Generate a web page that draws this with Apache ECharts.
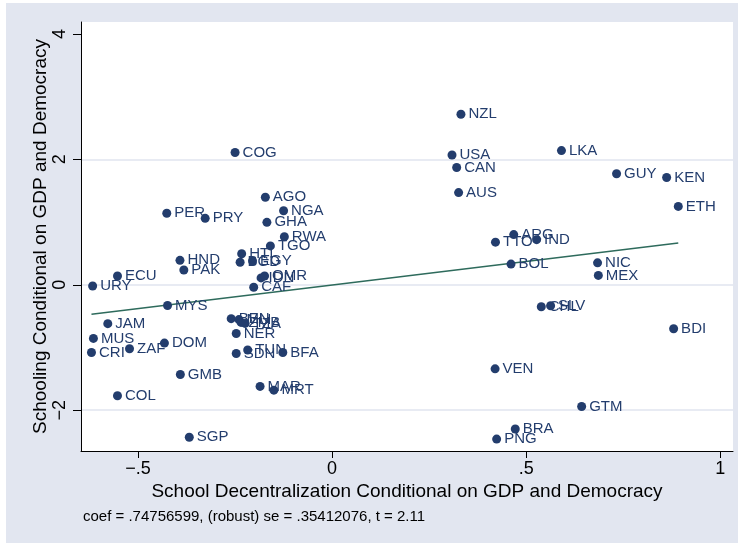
<!DOCTYPE html>
<html>
<head>
<meta charset="utf-8">
<script src="https://cdn.jsdelivr.net/npm/echarts@6/dist/echarts.min.js"></script>
<style>
  html, body { margin: 0; padding: 0; background: #fff; }
  #main { width: 740px; height: 545px; }
</style>
</head>
<body>
<div id="main"></div>
<script>
// country codes and the two residuals
var countries = ['NZL','USA','CAN','AUS','LKA','GUY','KEN','ETH','ARG','TTO','IND','BOL','NIC','MEX','CHL','SLV','BDI','VEN','GTM','BRA','PNG',
                 'COG','AGO','NGA','GHA','PRY','PER','RWA','TGO','HTI','BGD','EGY','IDN','OMR','CAF','HND','PAK','ECU','URY','MYS',
                 'JAM','MUS','CRI','ZAF','DOM','GMB','COL','SGP','BEN','MLI','ZMB','TZA','NER','SDN','TUN','BFA','MAR','MRT'];
var xVals = [0.332,0.309,0.321,0.326,0.591,0.733,0.862,0.892,0.468,0.421,0.527,0.461,0.684,0.686,0.539,0.563,0.880,0.420,0.643,0.472,0.424,
             -0.250,-0.172,-0.125,-0.168,-0.327,-0.426,-0.123,-0.159,-0.233,-0.237,-0.205,-0.183,-0.174,-0.202,-0.392,-0.382,-0.553,-0.617,-0.424,
             -0.578,-0.615,-0.620,-0.522,-0.432,-0.391,-0.553,-0.368,-0.260,-0.240,-0.2345,-0.224,-0.247,-0.247,-0.2175,-0.127,-0.1856,-0.150];
var yVals = [2.72,2.07,1.87,1.47,2.14,1.77,1.71,1.25,0.80,0.68,0.72,0.33,0.35,0.15,-0.35,-0.335,-0.70,-1.34,-1.94,-2.30,-2.46,
             2.11,1.395,1.18,0.996,1.06,1.14,0.766,0.62,0.495,0.36,0.38,0.11,0.14,-0.04,0.39,0.235,0.14,-0.02,-0.33,
             -0.62,-0.855,-1.08,-1.02,-0.93,-1.43,-1.77,-2.43,-0.54,-0.555,-0.60,-0.616,-0.776,-1.095,-1.04,-1.08,-1.62,-1.68];
// fitted line end points
var fitX = [-0.62, 0.892];
var fitY = [-0.47, 0.665];
// tick values and labels
var xTicks = [-0.5, 0, 0.5, 1];
var xTickText = ['\u2212.5', '0', '.5', '1'];
var yTicks = [-2, 0, 2, 4];
var yTickText = ['\u22122', '0', '2', '4'];
var gridVals = [-2, 0, 2];

var navy = '#233d6d';
var font = 'Liberation Sans, Arial, sans-serif';

var pts = [];
for (var i = 0; i < countries.length; i++) {
    pts.push({ name: countries[i], value: [xVals[i], yVals[i]] });
}
var fitData = [];
for (var i = 0; i < fitX.length; i++) {
    fitData.push([fitX[i], fitY[i]]);
}
var gridLines = [];
for (var i = 0; i < gridVals.length; i++) {
    gridLines.push({ yAxis: gridVals[i] });
}

var myChart = echarts.init(document.getElementById('main'));
var option = {
    backgroundColor: '#fff',
    animation: false,
    graphic: [
        { type: 'rect', z: -10, shape: { x: 6, y: 3, width: 732, height: 540 }, style: { fill: '#e2e6f0' } },
        { type: 'text', left: 83, top: 509, style: { text: 'coef = .74756599, (robust) se = .35412076, t = 2.11', font: '15px ' + font, fill: '#000' } }
    ],
    grid: {
        left: 81, top: 22, right: 7, bottom: 94,
        show: true, backgroundColor: '#fff', borderWidth: 0
    },
    xAxis: {
        type: 'value', min: -0.647, max: 1.033,
        name: 'School Decentralization Conditional on GDP and Democracy',
        nameLocation: 'middle', nameGap: 31, nameMoveOverlap: false,
        nameTextStyle: { fontSize: 19, color: '#000', fontFamily: font },
        axisLine: { onZero: false, lineStyle: { color: '#000', width: 1 } },
        axisTick: { show: true, length: 7, customValues: xTicks, lineStyle: { color: '#000' } },
        axisLabel: {
            customValues: xTicks, fontSize: 18, color: '#000', fontFamily: font, margin: 9,
            formatter: function (v) { return xTickText[xTicks.indexOf(v)]; }
        },
        splitLine: { show: false }
    },
    yAxis: {
        type: 'value', min: -2.65, max: 4.19,
        name: 'Schooling Conditional on GDP and Democracy',
        nameLocation: 'middle', nameGap: 31, nameMoveOverlap: false,
        nameTextStyle: { fontSize: 19, color: '#000', fontFamily: font },
        axisLine: { show: true, onZero: false, lineStyle: { color: '#000', width: 1 } },
        axisTick: { show: true, length: 8, customValues: yTicks, lineStyle: { color: '#000' } },
        axisLabel: {
            customValues: yTicks, fontSize: 18, color: '#000', fontFamily: font, margin: 12, rotate: 90,
            formatter: function (v) { return yTickText[yTicks.indexOf(v)]; }
        },
        splitLine: { show: false }
    },
    series: [
        {
            type: 'line', data: [], silent: true, z: 0,
            markLine: {
                silent: true, symbol: 'none', label: { show: false }, z: 0,
                lineStyle: { color: '#e0e5ef', width: 1.5, type: 'solid' },
                data: gridLines
            }
        },
        {
            type: 'line', data: fitData, symbol: 'none', silent: true, z: 2,
            lineStyle: { color: '#2e6b5c', width: 1.5 }
        },
        {
            type: 'scatter', data: pts, symbol: 'circle', symbolSize: 9, z: 3,
            itemStyle: { color: navy, opacity: 1 },
            label: {
                show: true, position: 'right', distance: 3,
                formatter: '{b}', color: navy, fontSize: 15, fontFamily: font
            }
        }
    ]
};
myChart.setOption(option);
</script>
</body>
</html>
